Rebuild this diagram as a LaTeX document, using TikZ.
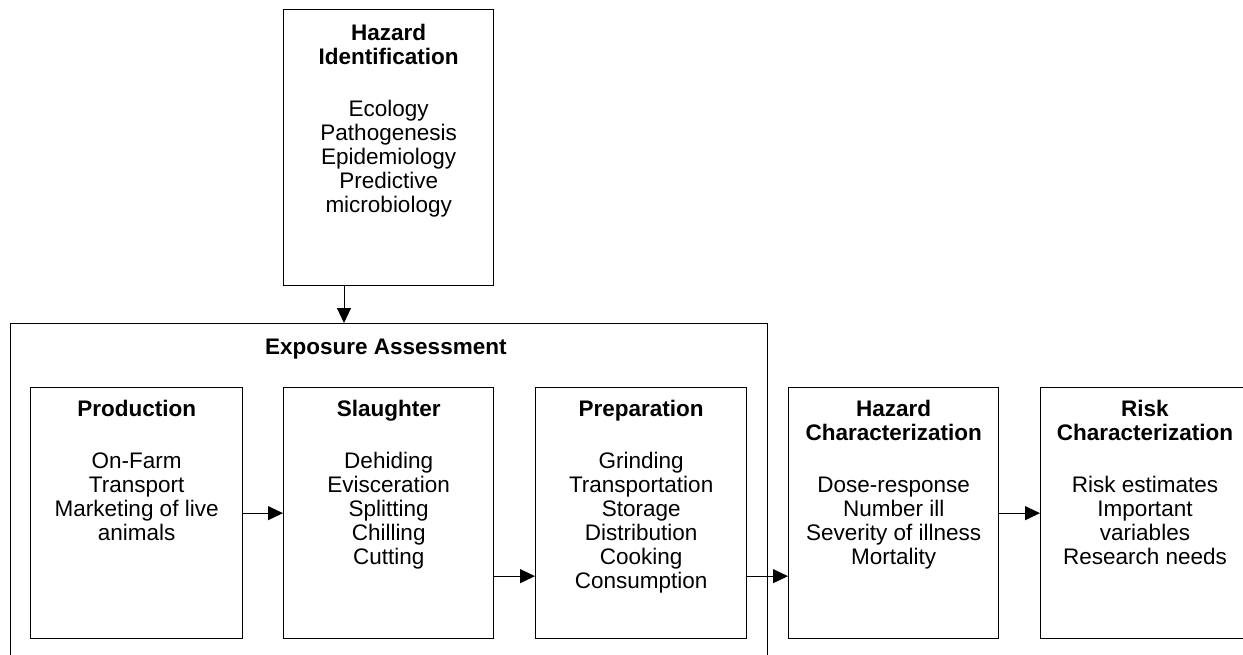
\documentclass[tikz,border=0pt]{standalone}
\usepackage{fontspec}
\setmainfont{Liberation Sans}
\usetikzlibrary{arrows.meta}
\begin{document}
\begin{tikzpicture}[x=1pt,y=-1pt,
  box/.style={draw, line width=1.3pt, rectangle, inner sep=0pt, anchor=north west},
  boxtext/.style={anchor=north, align=center, inner sep=0pt, font=\fontsize{22.5}{24}\selectfont},
  flow/.style={line width=1pt, -{Triangle[length=15pt,width=14pt]}}]
\clip (0,0) rectangle (1243,655);
\fill[white] (0,0) rectangle (1243,655);
% boxes
\node[box, minimum width=210pt, minimum height=276pt] (hi) at (283,9) {};
\node[box, minimum width=757pt, minimum height=400pt] (ea) at (10,323) {};
\node[box, minimum width=212pt, minimum height=251pt] (prod) at (30,387) {};
\node[box, minimum width=210pt, minimum height=251pt] (slau) at (283,387) {};
\node[box, minimum width=211pt, minimum height=251pt] (prep) at (535,387) {};
\node[box, minimum width=210pt, minimum height=251pt] (hc) at (788,387) {};
\node[box, minimum width=260pt, minimum height=251pt] (rc) at (1040,387) {};
\coordinate (hiout) at (344,285);
% texts
\node[boxtext] (hit) at ([yshift=-15pt]hi.north) {\textbf{Hazard}\\\textbf{Identification}\\[28pt]Ecology\\Pathogenesis\\Epidemiology\\Predictive\\microbiology};
\node[boxtext, anchor=north west, font=\fontsize{22.5}{24}\selectfont\bfseries] (eat) at (265,339) {Exposure Assessment};
\node[boxtext] (prodt) at ([yshift=-13pt]prod.north) {\textbf{Production}\\[28pt]On-Farm\\Transport\\Marketing of live\\animals};
\node[boxtext] (slaut) at ([yshift=-13pt]slau.north) {\textbf{Slaughter}\\[28pt]Dehiding\\Evisceration\\Splitting\\Chilling\\Cutting};
\node[boxtext] (prept) at ([yshift=-13pt]prep.north) {\textbf{Preparation}\\[28pt]Grinding\\Transportation\\Storage\\Distribution\\Cooking\\Consumption};
\node[boxtext] (hct) at ([yshift=-13pt]hc.north) {\textbf{Hazard}\\\textbf{Characterization}\\[28pt]Dose-response\\Number ill\\Severity of illness\\Mortality};
\node[boxtext] (rct) at ([yshift=-13pt]1145,387) {\textbf{Risk}\\\textbf{Characterization}\\[28pt]Risk estimates\\Important\\variables\\Research needs};
% connectors
\draw[flow] (hiout) -- (hiout |- ea.north);
\draw[flow] (prod.east) -- (slau.west);
\draw[flow] ([yshift=-63pt]slau.east) -- ([yshift=-63pt]prep.west);
\draw[flow] ([yshift=-63pt]prep.east) -- ([yshift=-63pt]hc.west);
\draw[flow] (hc.east) -- (rc.west);
\end{tikzpicture}
\end{document}
